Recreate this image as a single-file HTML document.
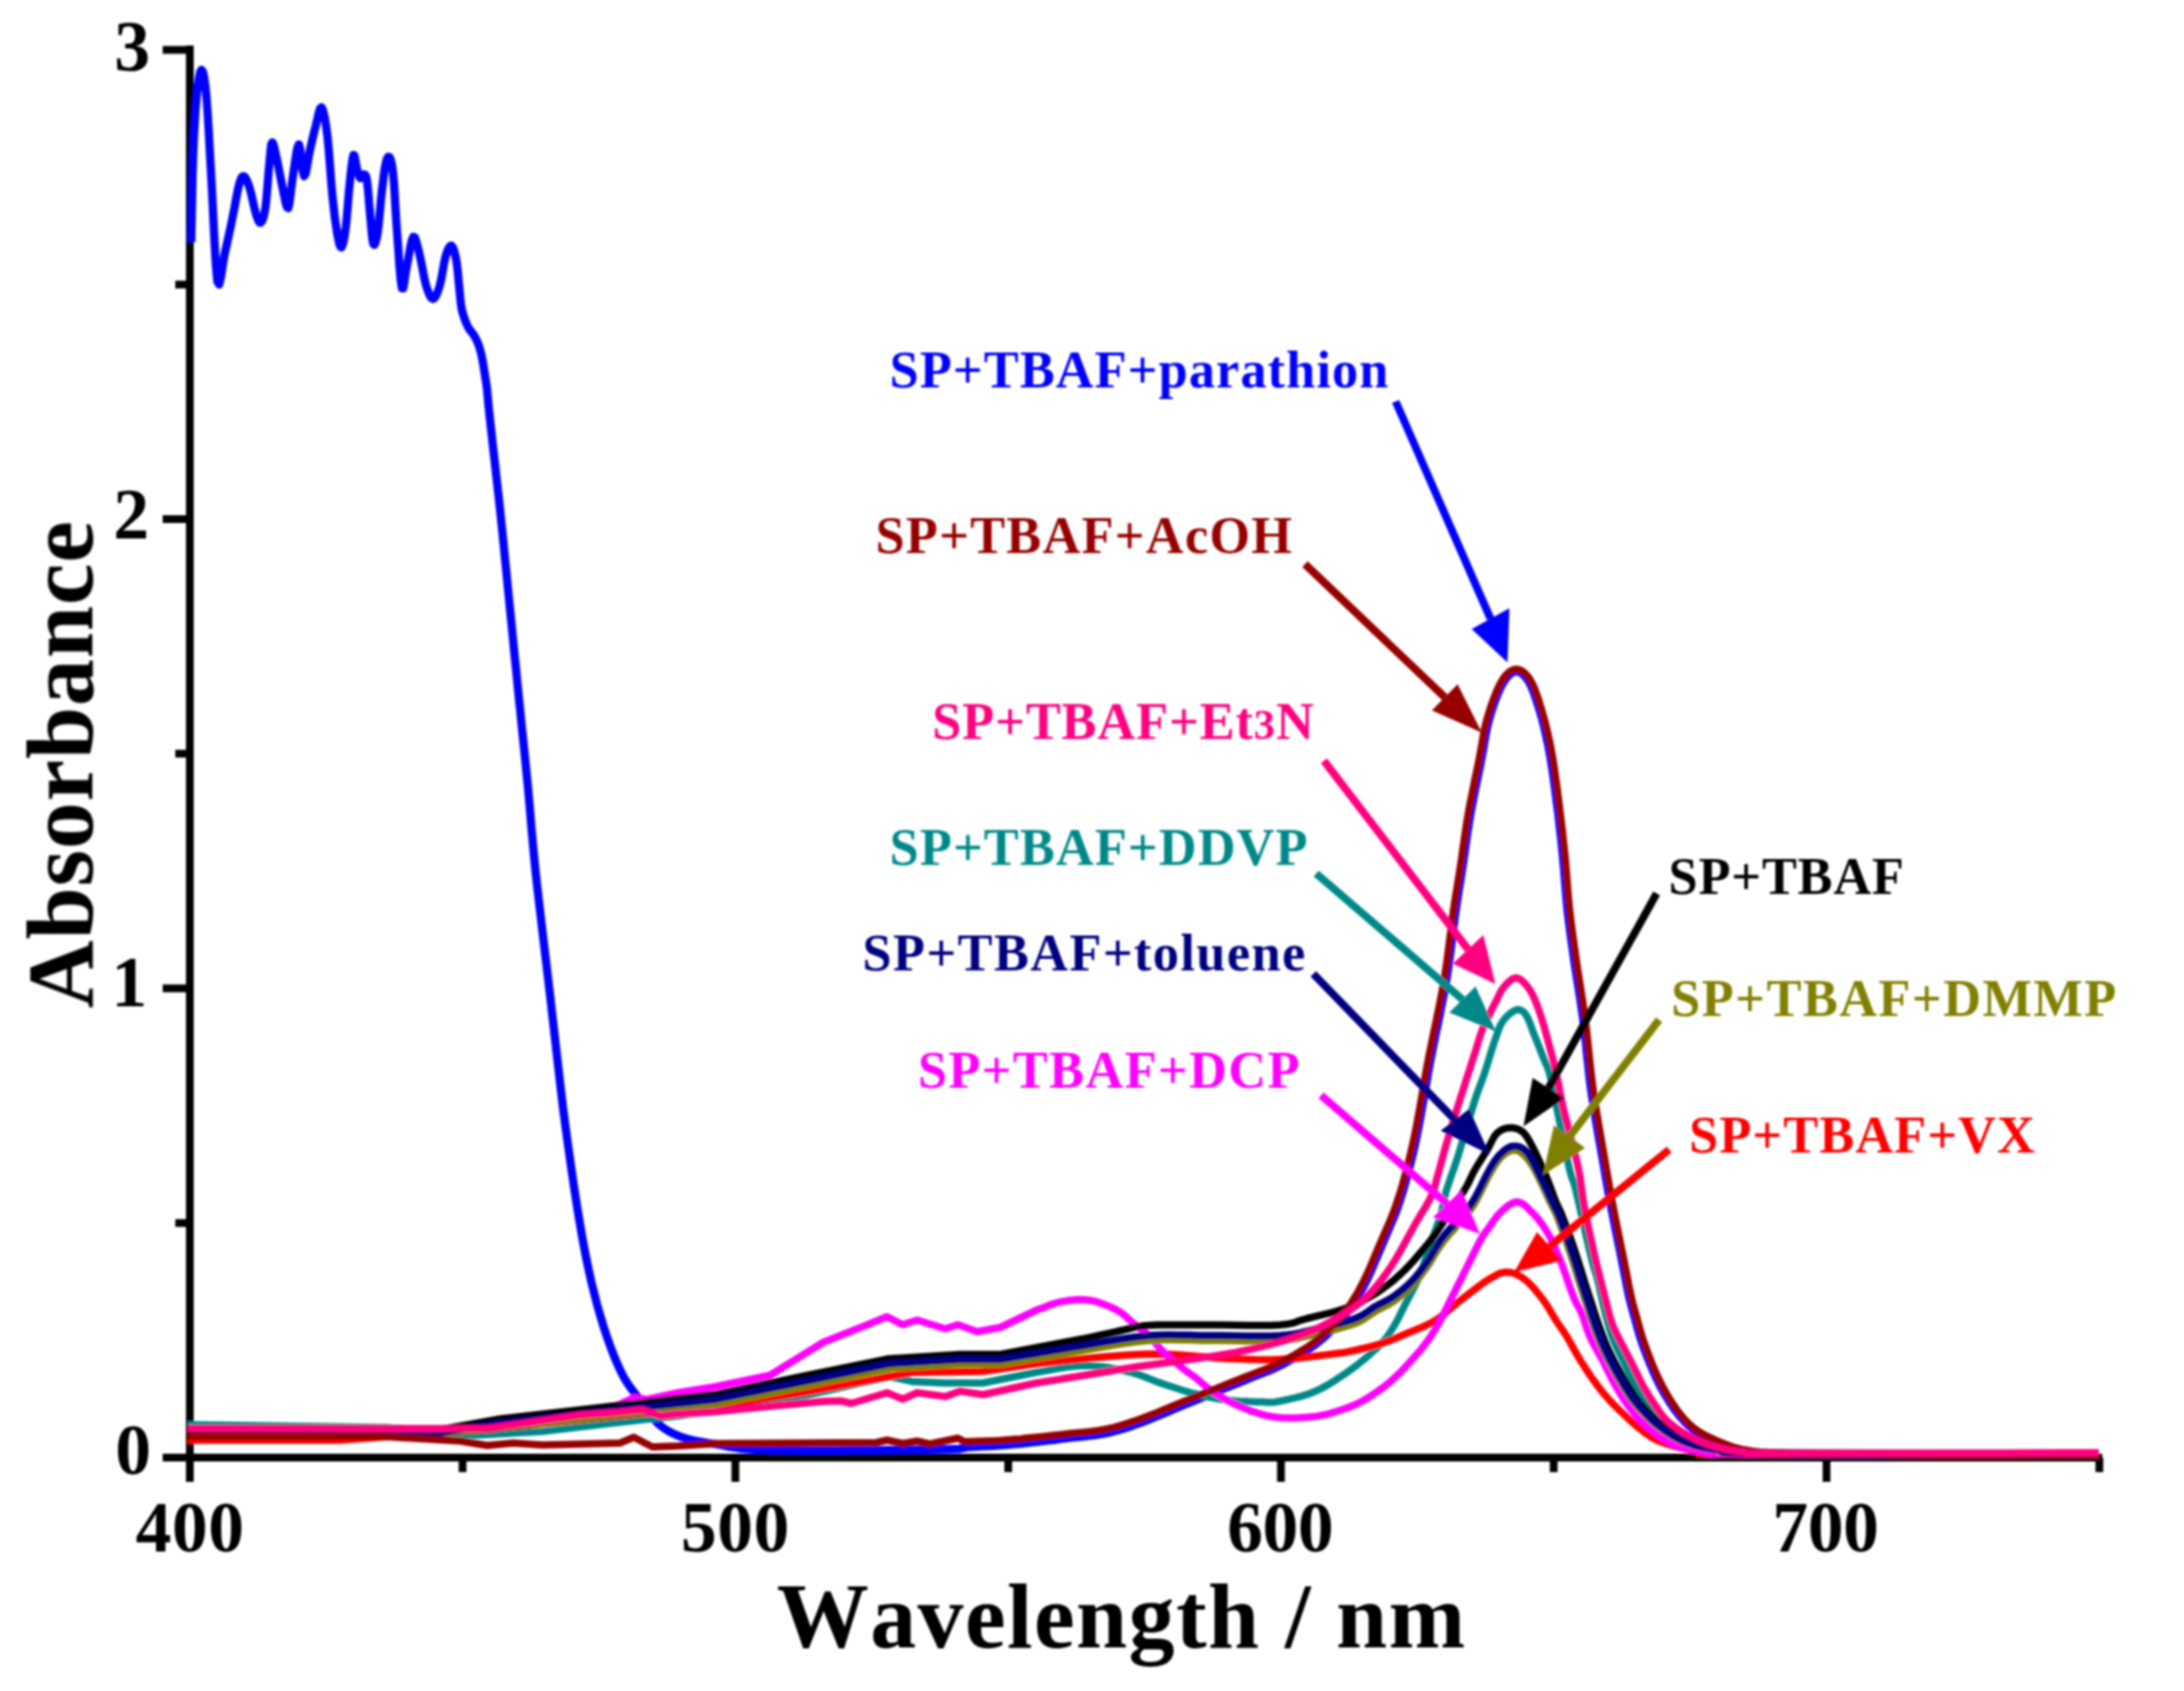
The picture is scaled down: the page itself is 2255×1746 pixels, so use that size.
<!DOCTYPE html>
<html lang="en"><head><meta charset="utf-8"><title>Absorbance spectra</title>
<style>
html,body{margin:0;padding:0;background:#fff;}
body{width:2255px;height:1746px;overflow:hidden;}
svg{display:block;}
</style></head><body>
<svg width="2255" height="1746" viewBox="0 0 2255 1746">
<rect width="2255" height="1746" fill="#fff"/>
<defs><filter id="soft" x="0" y="0" width="2255" height="1746" filterUnits="userSpaceOnUse"><feGaussianBlur stdDeviation="0.9"/></filter></defs>
<g filter="url(#soft)">
<g stroke="#000" stroke-width="8" stroke-linecap="butt" fill="none">
<line x1="196" y1="47" x2="196" y2="1530"/>
<line x1="168" y1="1505" x2="2170.5" y2="1505"/>
<line x1="168" y1="1020.5" x2="196" y2="1020.5"/>
<line x1="168" y1="536" x2="196" y2="536"/>
<line x1="168" y1="51.5" x2="196" y2="51.5"/>
<line x1="181" y1="1262.8" x2="196" y2="1262.8"/>
<line x1="181" y1="778.2" x2="196" y2="778.2"/>
<line x1="181" y1="293.8" x2="196" y2="293.8"/>
<line x1="759.3" y1="1505" x2="759.3" y2="1530"/>
<line x1="1322.6" y1="1505" x2="1322.6" y2="1530"/>
<line x1="1885.9" y1="1505" x2="1885.9" y2="1530"/>
<line x1="477.6" y1="1505" x2="477.6" y2="1520"/>
<line x1="1041" y1="1505" x2="1041" y2="1520"/>
<line x1="1604.2" y1="1505" x2="1604.2" y2="1520"/>
<line x1="2167.6" y1="1505" x2="2167.6" y2="1520"/>
</g>
<path d="M197.5 250L197.8 233.1L198.3 208.8L198.8 182.5L199.5 160L200.2 142.1L201.1 126.1L202 112L203 100L204.1 89.5L205.4 80.6L206.7 74.5L208 72L209.2 73.4L210.5 78.1L211.8 86.3L213 98L214.2 113.9L215.4 133.7L216.6 156.1L218 180L219.5 209L221.1 242.4L222.8 272.4L224.5 291L226.3 293.8L228.2 285.8L230.1 273.1L232 262L234 253.3L236 243.9L238.1 234.3L240 225L241.9 215.5L243.7 205.7L245.4 196.8L247 190L248.4 185.6L249.6 183L250.7 181.9L252 182L253.4 183.5L254.9 186.4L256.5 190.4L258 195L259.5 200.8L261.1 207.7L262.6 214.5L264 220L265.3 224.1L266.6 227.5L267.8 229.6L269 230L270.3 228.7L271.6 225.9L272.8 221.4L274 215L275.1 205.3L276.1 193L277.1 180.4L278 170L278.8 161.7L279.4 154.6L280.1 149.4L281 147L282.1 148.3L283.3 152.7L284.6 158.7L286 165L287.4 171.9L289 179.9L290.5 187.9L292 195L293.4 201.9L294.8 208.8L296.2 213.8L297.5 215L298.6 211.2L299.7 203.5L300.8 194.1L302 185L303.5 174.8L305.2 163.1L306.9 153.3L308.5 149L309.9 153.8L311.3 164.9L312.6 176.4L314 182L315.5 179.4L317 172.1L318.5 163L320 155L321.5 148.5L323 142L324.5 135.8L326 130L327.5 123.6L329 117L330.5 112L332 110.7L333.5 113.9L335.1 120.4L336.6 129.4L338 140L339.3 153.3L340.6 169.3L341.8 185.7L343 200L344.3 212L345.5 222.8L346.8 232.2L348 240L349.2 246.4L350.3 251.5L351.4 254.7L352.5 255.5L353.6 253.5L354.8 249L355.9 242.7L357 235L358 225.1L359 213.1L360 200.8L361 190L362 180.4L363 171.3L364 164.1L365 160L365.9 160.5L366.8 164.5L367.6 169.8L368.5 174L369.4 177.1L370.2 180.1L371.1 182.6L372 184L373 183.7L374 182.2L375.1 180.6L376 180L376.8 180.4L377.6 181.2L378.3 183.2L379 187L379.7 193.4L380.5 201.9L381.2 211.2L382 220L382.8 229.1L383.7 238.8L384.5 247.1L385.5 252L386.6 252.8L387.7 250.5L388.9 246L390 240L391 231.7L392 221.1L393 210L394 200L395 191.3L396 183L397 175.7L398 170L399 165.8L400 163L401 161.7L402 162L403 163.7L404 166.8L405 171.9L406 180L407 192.1L407.9 207.5L408.9 224.2L410 240L411.2 256.4L412.4 274L413.7 288.9L415 297.6L416.2 297.8L417.4 291.8L418.6 283.1L420 275L421.6 266.8L423.3 257.2L425 248.9L426.7 244.5L428.3 245.1L429.8 249.3L431.4 255.4L433 262L434.7 269.6L436.5 278.7L438.2 287.8L440 295L441.8 300.4L443.5 304.7L445.2 307.6L447 308.6L448.8 307.5L450.6 304.5L452.3 300.2L454 295L455.6 288.2L457.1 279.9L458.5 271.6L460 265L461.5 260.2L463.1 256.5L464.6 254.2L466 253.6L467.4 255.1L468.7 258.4L469.9 262.9L471 268L471.9 274L472.7 281L473.3 288.2L474 295L474.6 301.3L475.2 307.4L475.8 313.1L476.5 318L477.3 321.8L478.2 324.9L479.1 327.5L480 330L480.9 332.4L481.8 334.6L482.8 336.8L484 339L485.6 341.3L487.4 343.5L489.2 346L491 349L492.6 352.4L494.1 356L495.5 360.4L497 366L498.6 374.1L500.2 384.1L501.7 393.5L502.7 400L503 403L503.3 406.6L503.7 411.1L504.2 416.9L505 424.4L506 434L507.4 446.3L509 461L510.9 477.4L512.8 494.8L514.8 512.2L516.6 529L518.3 545.3L520 562L521.6 578.7L523.3 595.4L524.9 611.9L526.5 628L528.1 643.7L529.6 659.2L531.1 674.5L532.7 689.6L534.2 704.8L535.7 720L537.3 735.3L538.8 750.7L540.4 766L542 781.3L543.5 796.5L545 811.6L546.3 826.1L547.5 839.8L548.6 853.5L549.9 867.7L551.3 883L553 900L555.1 919L557.5 939.5L560 961.1L562.7 983.4L565.4 1005.9L568 1028L570.5 1050.2L573.1 1072.8L575.7 1095.6L578.3 1118.2L580.9 1140.5L583.7 1162L586.6 1183.2L589.6 1204.3L592.6 1225L595.7 1245L598.8 1263.7L601.8 1281L604.8 1296.6L607.7 1310.7L610.6 1323.7L613.6 1335.8L616.6 1347.3L619.8 1358.5L623.1 1369.4L626.5 1379.8L630 1389.7L633.5 1398.8L637 1407.3L640.5 1415L643.9 1421.7L647.3 1427.4L650.7 1432.4L654.1 1437L657.6 1441.4L661 1446L664.4 1450.8L667.8 1455.5L671.2 1460.1L674.6 1464.5L678.2 1468.5L682 1472L685.9 1475L690 1477.6L694.2 1479.8L698.5 1481.7L703 1483.4L707.6 1485L712.3 1486.4L717 1487.5L721.8 1488.4L726.9 1489.3L732.5 1490.1L738.6 1491L744.6 1492.1L750.4 1493.2L756.5 1494.3L763.9 1495.4L773.1 1496.3L785 1497L800.5 1497.4L819.2 1497.6L839.8 1497.7L861 1497.7L881.5 1497.6L900 1497.5L917.5 1497.3L935.2 1497.1L952.2 1496.8L967.6 1496.5L980.5 1496.2L990 1496L1000.7 1493.9L1007.1 1493.7L1014.6 1493.3L1022.6 1493L1030.4 1492.6L1037.3 1492.1L1043.3 1491.6L1048.9 1491.1L1054.3 1490.6L1059.6 1490L1064.9 1489.4L1070.5 1488.8L1076.4 1488.1L1082.4 1487.4L1088.5 1486.7L1094.6 1485.9L1100.6 1485.1L1106.5 1484.4L1112.2 1483.8L1117.8 1483.2L1123.5 1482.6L1129.2 1482L1134.9 1481.1L1140.8 1480L1146.4 1478.8L1151.8 1477.4L1157.3 1475.9L1163 1474.1L1169.2 1472.1L1176.3 1469.5L1184.3 1466.5L1193.2 1462.9L1202.6 1459L1212.2 1454.9L1221.9 1450.9L1231.2 1447.1L1240.6 1443.3L1250.2 1439.4L1259.8 1435.4L1269.2 1431.6L1278 1428L1286.1 1424.7L1293.2 1421.9L1299.6 1419.4L1305.5 1417.1L1311.2 1414.8L1316.9 1412.3L1322.8 1409.4L1329 1406.1L1335.3 1402.7L1341.7 1399L1347.9 1395.1L1353.9 1391.1L1359.5 1387L1364.8 1382.7L1369.8 1378.3L1374.6 1373.7L1379.2 1369L1383.5 1364.2L1387.7 1359.3L1391.5 1354.4L1395.1 1349.6L1398.4 1344.6L1401.7 1339.3L1404.9 1333.8L1408.1 1327.7L1411.5 1321L1414.8 1313.9L1418.1 1306.4L1421.3 1298.7L1424.5 1291L1427.7 1283.5L1430.8 1276.4L1433.8 1269.4L1436.8 1262.4L1439.8 1255.1L1442.8 1247.3L1445.7 1238.7L1448.6 1229.5L1451.4 1219.7L1454.2 1209.5L1456.9 1198.7L1459.6 1187.4L1462.2 1175.5L1464.8 1162.7L1467.3 1149.1L1469.8 1134.9L1472.3 1120.5L1474.7 1106.4L1477.2 1092.9L1479.8 1079.8L1482.5 1066.7L1485.2 1053.9L1487.7 1041.4L1490.1 1029.5L1492.2 1018.4L1493.9 1008L1495.4 998.1L1496.7 988.8L1497.8 980.2L1498.8 972.4L1499.7 965.3L1500.5 959.5L1501 954.9L1501.5 951.1L1501.9 947.5L1502.5 943.4L1503.2 938.3L1504.1 932.3L1505.1 925.8L1506.2 918.9L1507.4 911.6L1508.6 903.9L1509.9 895.8L1511.1 887.3L1512.4 878.3L1513.7 868.8L1515.1 859.3L1516.6 849.7L1518.2 840.4L1519.9 831.1L1521.7 821.6L1523.6 812.2L1525.6 802.9L1527.4 793.9L1529.1 785.4L1530.6 777.5L1531.9 770L1533.1 762.8L1534.4 755.9L1535.8 749.2L1537.5 742.6L1539.5 735.7L1541.8 728.7L1544.3 721.9L1546.8 715.5L1549.4 709.8L1551.9 705.1L1554.3 701.4L1556.6 698.4L1559 696.1L1561.2 694.5L1563.3 693.5L1565.3 693.1L1567.3 693.3L1569.3 694L1571.5 695.4L1573.8 697.4L1576 700L1578.2 703.1L1580.3 706.9L1582.3 711.5L1584.3 716.6L1586.2 722.2L1588.1 728.2L1590 734.3L1591.8 740.5L1593.5 747L1595.2 753.8L1596.8 761L1598.4 768.5L1599.9 776.4L1601.4 784.9L1602.8 793.9L1604.2 803.4L1605.5 813L1606.7 822.6L1607.9 831.9L1609.1 840.9L1610.1 849.8L1611.1 858.7L1612.1 867.5L1613 876.4L1613.9 885.2L1614.7 894L1615.4 902.9L1616.1 911.7L1616.8 920.5L1617.6 929.4L1618.4 938.2L1619.4 947L1620.5 955.6L1621.6 964.2L1622.8 973L1624.1 982L1625.4 991.3L1626.9 1001L1628.4 1010.8L1630 1020.9L1631.7 1031.3L1633.2 1042L1634.8 1053L1636.1 1064.5L1637.5 1076.6L1638.7 1089.1L1640.1 1101.6L1641.4 1114L1643 1125.9L1644.7 1137.5L1646.5 1149.2L1648.5 1160.6L1650.4 1171.7L1652.3 1182.2L1654 1192.1L1655.6 1201.4L1657.1 1210.1L1658.5 1218.3L1659.9 1226.1L1661.2 1233.4L1662.5 1240.4L1663.7 1246.8L1664.8 1252.5L1665.9 1257.8L1666.9 1263L1667.9 1268.1L1669 1273.4L1670.1 1278.9L1671.2 1284.4L1672.4 1289.9L1673.5 1295.4L1674.6 1300.9L1675.7 1306.4L1676.8 1312L1677.9 1317.7L1679 1323.4L1680.1 1329L1681.2 1334.4L1682.3 1339.5L1683.5 1344.2L1684.7 1348.8L1685.8 1353.1L1687 1357.2L1688.1 1361L1689.1 1364.5L1689.9 1367.6L1690.6 1370.3L1691.2 1372.6L1691.9 1375L1692.6 1377.6L1693.6 1380.6L1694.7 1384.1L1696 1387.8L1697.4 1391.7L1698.9 1395.8L1700.4 1399.8L1702 1403.7L1703.6 1407.6L1705.2 1411.5L1706.9 1415.5L1708.6 1419.4L1710.4 1423.2L1712.1 1426.8L1713.9 1430.3L1715.7 1433.7L1717.6 1437.1L1719.4 1440.3L1721.3 1443.4L1723.1 1446.3L1724.9 1449.2L1726.8 1451.9L1728.6 1454.6L1730.5 1457.1L1732.3 1459.5L1734.1 1461.8L1735.9 1464L1737.7 1466L1739.4 1467.9L1741.2 1469.7L1743 1471.5L1745 1473.2L1747 1474.8L1748.9 1476.3L1750.9 1477.8L1753.1 1479.2L1755.6 1480.7L1758.3 1482.2L1761.6 1483.9L1765.2 1485.6L1769.1 1487.4L1773.1 1489.1L1776.9 1490.7L1780.6 1492.1L1783.8 1493.3L1786.8 1494.4L1789.7 1495.4L1792.7 1496.2L1796 1497L1799.8 1497.8L1803.7 1498.5L1807.6 1499.1L1811.7 1499.7L1816.5 1500.2L1822.5 1500.6L1830 1501L1837 1501.3L1843 1501.5L1850.2 1501.6L1860.6 1501.7L1876.5 1501.8L1900 1501.9L1936.2 1501.9L1984.3 1501.8L2037.9 1501.8L2090.5 1501.7L2135.7 1501.6L2167 1501.5" fill="none" stroke="#0000ff" stroke-width="8.5" stroke-linejoin="round" stroke-linecap="butt"/>
<path d="M194 1471L400 1474L490 1482L560 1478L627 1470L700 1462L760 1452L831.6 1441L917.7 1421L941.5 1426.4L976 1428L1014.7 1428L1069.7 1417L1069.7 1417L1075.2 1416.1L1082.9 1414.7L1092 1413.1L1101.7 1411.6L1111.3 1410.5L1120 1410L1128 1410.2L1135.9 1410.9L1143.8 1412L1151.4 1413.4L1158.7 1414.9L1165.8 1416.5L1172.4 1418.3L1178.7 1420.4L1184.7 1422.7L1190.6 1425.1L1196.5 1427.4L1202.5 1429.5L1208.7 1431.5L1214.9 1433.5L1221.1 1435.5L1227.2 1437.3L1233.2 1439L1239 1440.5L1244.5 1441.8L1249.8 1442.9L1254.9 1443.8L1259.9 1444.7L1265 1445.4L1270 1446L1275.2 1446.5L1280.4 1446.9L1285.7 1447.1L1290.8 1447.3L1295.6 1447.4L1300 1447.5L1303.7 1447.6L1306.7 1447.8L1309.5 1448L1312.4 1448L1315.7 1447.7L1320 1447L1325.3 1446L1331.4 1444.7L1337.9 1443.2L1344.7 1441.3L1351.5 1439.2L1358 1436.6L1364.3 1433.6L1370.7 1430.1L1377 1426.2L1383.2 1422.2L1389.3 1418.1L1395 1414L1400.6 1409.9L1406 1405.6L1411.3 1401.2L1416.2 1396.8L1420.7 1392.7L1424.7 1388.8L1428 1385.3L1430.7 1382.2L1432.9 1379.3L1434.9 1376.3L1436.8 1373.3L1438.9 1369.9L1441 1366.3L1443.1 1362.5L1445.1 1358.6L1447 1354.6L1449.1 1350.5L1451.2 1346.2L1453.5 1341.8L1455.8 1337.4L1458.2 1332.9L1460.7 1328.1L1463.1 1323.1L1465.4 1317.8L1467.7 1311.9L1470 1305.5L1472.4 1298.8L1474.6 1292.1L1476.7 1285.8L1478.7 1280L1480.5 1274.8L1482.3 1270L1483.9 1265.5L1485.4 1261.2L1486.8 1257.1L1488 1253L1489 1249.3L1489.6 1246.1L1490.1 1243.1L1490.7 1239.9L1491.5 1236.2L1492.7 1231.6L1494.4 1226.2L1496.4 1220.3L1498.6 1213.8L1501 1206.9L1503.5 1199.5L1506 1191.8L1508.6 1183.2L1511.5 1173.7L1514.5 1163.7L1517.4 1153.8L1520.1 1144.8L1522.5 1137L1524.5 1130.9L1526.3 1126L1527.8 1121.8L1529.3 1118L1530.8 1113.8L1532.5 1109L1534.4 1103.2L1536.4 1096.8L1538.4 1090.2L1540.4 1083.7L1542.3 1077.7L1544 1072.6L1545.5 1068.4L1546.7 1064.8L1547.9 1061.7L1549 1059L1550.4 1056.5L1552 1054L1554 1051.5L1556.3 1049.1L1558.7 1046.9L1561.1 1045.1L1563.5 1043.6L1565.6 1042.8L1567.5 1042.5L1569.2 1042.7L1570.9 1043.4L1572.5 1044.4L1574 1045.9L1575.5 1047.8L1577 1050.2L1578.3 1053.1L1579.7 1056.5L1581 1060.1L1582.3 1063.8L1583.8 1067.6L1585.4 1071.6L1587.1 1075.8L1588.9 1080.3L1590.6 1084.6L1592.2 1088.8L1593.7 1092.5L1595 1095.5L1596 1098L1597 1100.2L1598 1102.6L1599 1105.4L1600 1109L1601.1 1113.2L1602.1 1117.7L1603.1 1122.6L1604.2 1128.2L1605.5 1134.6L1607 1142L1608.9 1151.3L1611.2 1162.4L1613.6 1174.4L1616 1186.2L1618.2 1196.8L1620 1205L1621.4 1210.6L1622.4 1214.2L1623.2 1216.6L1624 1218.4L1624.7 1220.3L1625.5 1223L1626.4 1226.3L1627.2 1229.5L1628 1232.8L1628.8 1236.5L1629.8 1240.5L1630.8 1245L1632 1250.4L1633.4 1256.5L1634.9 1263L1636.3 1269.6L1637.7 1275.8L1639 1281.4L1640.1 1286.3L1641.2 1290.8L1642.2 1294.9L1643.2 1298.8L1644.1 1302.5L1645 1306L1645.9 1309.1L1646.7 1311.7L1647.5 1314.1L1648.3 1316.6L1649.1 1319.4L1650 1322.8L1651 1326.9L1652 1331.6L1653.1 1336.5L1654.2 1341.7L1655.3 1346.8L1656.5 1351.7L1657.7 1356.5L1658.9 1361.2L1660.2 1366L1661.5 1370.7L1663 1375.4L1664.6 1380L1666.4 1384.6L1668.4 1389.2L1670.6 1393.8L1672.8 1398.3L1674.9 1402.7L1677 1407L1679 1411.1L1680.9 1415.1L1682.8 1419L1684.7 1422.8L1686.6 1426.4L1688.5 1430L1690.4 1433.5L1692.3 1436.8L1694.2 1440.1L1696.2 1443.2L1698.1 1446.2L1700 1449L1701.9 1451.7L1703.8 1454.2L1705.8 1456.6L1707.7 1458.9L1709.6 1461L1711.5 1463L1713.4 1464.8L1715.2 1466.4L1717.1 1467.9L1719 1469.3L1720.9 1470.8L1723 1472.3L1725.1 1473.9L1727.2 1475.6L1729.4 1477.3L1731.7 1479L1734.2 1480.7L1737 1482.3L1740 1483.9L1743.3 1485.5L1746.7 1487.2L1750.3 1488.7L1754.1 1490.2L1758 1491.5L1762.2 1492.7L1766.6 1493.9L1771.2 1494.9L1775.9 1495.9L1780.5 1496.7L1785 1497.5L1789.1 1498.1L1792.9 1498.6L1796.7 1499.1L1800.6 1499.4L1805 1499.7L1810 1500L1812.6 1500.3L1812 1500.5L1811.8 1500.7L1815.6 1500.8L1827.1 1500.9L1850 1501L1890.5 1501.1L1946.9 1501.1L2011 1501.1L2074.6 1501L2129.3 1501L2167 1501" fill="none" stroke="#008888" stroke-width="7.5" stroke-linejoin="round" stroke-linecap="butt"/>
<path d="M194 1487L352 1487L503 1476L627 1463L740 1452L831.6 1437.4L941.5 1417L1014.7 1416L1069.7 1408L1120 1402.7L1120 1402.7L1127.9 1402.1L1138.9 1401.1L1151.9 1400.1L1165.9 1399L1179.9 1398.3L1193 1398L1205.5 1398.3L1218.2 1399L1231 1400L1243.5 1401.1L1255.5 1402L1266.7 1402.7L1276.9 1403.1L1286.4 1403.5L1295.3 1403.8L1304 1403.9L1312.7 1403.9L1321.6 1403.6L1331.1 1403L1341.1 1402.2L1351.1 1401.1L1360.6 1400L1369.3 1398.9L1376.6 1398L1382.3 1397.3L1386.6 1396.7L1390 1396.1L1393.1 1395.5L1396.2 1394.8L1400 1394L1404.3 1393L1408.9 1392L1413.5 1390.8L1418.2 1389.6L1422.9 1388.3L1427.5 1386.8L1432.1 1385.2L1436.7 1383.5L1441.2 1381.7L1445.8 1379.7L1450.4 1377.8L1455 1375.8L1459.6 1373.9L1464.2 1372L1468.8 1370.1L1473.3 1368L1477.9 1365.7L1482.5 1363L1487.1 1359.8L1491.7 1356.3L1496.2 1352.5L1500.8 1348.5L1505.4 1344.7L1510 1341L1514.7 1337.4L1519.5 1333.7L1524.3 1330L1529 1326.5L1533.4 1323.4L1537.5 1320.8L1541.1 1318.7L1544.3 1316.9L1547.2 1315.4L1550 1314.4L1552.9 1313.7L1555.8 1313.5L1558.8 1313.7L1561.9 1314.4L1564.9 1315.4L1567.9 1316.9L1571 1318.7L1574 1320.8L1577.1 1323.4L1580.3 1326.5L1583.5 1329.9L1586.6 1333.6L1589.6 1337.3L1592.5 1341L1595.2 1344.8L1597.8 1348.7L1600.2 1352.8L1602.6 1356.7L1604.8 1360.5L1607 1364L1609 1367L1610.8 1369.6L1612.4 1372L1614.1 1374.4L1615.8 1377L1617.7 1380L1619.7 1383.4L1621.8 1387.1L1624 1391.1L1626.2 1395.1L1628.5 1399.1L1630.8 1403L1633.2 1406.9L1635.7 1410.8L1638.2 1414.7L1640.8 1418.6L1643.4 1422.4L1646 1426L1648.6 1429.5L1651.1 1432.9L1653.7 1436.2L1656.3 1439.4L1658.9 1442.4L1661.5 1445.4L1664.1 1448.2L1666.7 1450.9L1669.3 1453.4L1671.8 1455.9L1674.4 1458.4L1677 1460.8L1679.6 1463.2L1682.1 1465.6L1684.7 1468L1687.2 1470.3L1689.7 1472.5L1692.3 1474.6L1694.9 1476.6L1697.4 1478.6L1700 1480.5L1702.6 1482.3L1705.1 1483.9L1707.7 1485.4L1710.2 1486.7L1712.7 1487.8L1715.2 1488.8L1717.8 1489.8L1720.4 1490.6L1723 1491.5L1725.7 1492.4L1728.4 1493.2L1731.2 1493.9L1734 1494.6L1737 1495.3L1740 1496L1743 1496.7L1746.1 1497.3L1749.2 1497.9L1752.5 1498.5L1756.1 1499L1760 1499.5L1760.4 1499.9L1756.4 1500.3L1752.7 1500.7L1753.9 1501L1764.8 1501.3L1790 1501.5L1837.1 1501.7L1903.9 1501.8L1980.4 1501.9L2056.4 1501.9L2122 1502L2167 1502" fill="none" stroke="#ff0000" stroke-width="7.5" stroke-linejoin="round" stroke-linecap="butt"/>
<path d="M194 1477L462 1477L503 1474.5L560 1469L610 1460L640 1450L655 1443L668 1445L700 1438L740 1431.5L795 1420L850 1386L895.7 1367.8L915.8 1359.5L932 1367.8L947 1363L976 1372L989 1367.8L1009 1375L1033 1370.5L1069.7 1353L1069.7 1353L1072 1352.1L1075.1 1350.9L1078.9 1349.4L1082.8 1347.9L1086.6 1346.6L1090 1345.5L1092.9 1344.7L1095.7 1344.1L1098.4 1343.6L1101 1343.1L1103.5 1342.8L1106 1342.5L1108.4 1342.2L1110.8 1342L1113.1 1341.9L1115.3 1341.8L1117.6 1341.9L1120 1342L1122.4 1342.2L1124.7 1342.5L1127.1 1342.9L1129.6 1343.4L1132.2 1344.1L1135 1345L1138.1 1346.1L1141.6 1347.4L1145.2 1348.9L1148.8 1350.5L1152.2 1352.2L1155.4 1354L1158.2 1355.9L1160.8 1357.9L1163.3 1360.1L1165.7 1362.2L1168 1364.4L1170.5 1366.5L1173.1 1368.5L1175.7 1370.6L1178.4 1372.6L1180.9 1374.6L1183.4 1376.5L1185.6 1378.5L1187.6 1380.5L1189.3 1382.4L1191 1384.4L1192.5 1386.3L1194.1 1388.2L1195.7 1390L1197.3 1391.8L1198.9 1393.4L1200.4 1395.1L1202.1 1396.8L1203.8 1398.5L1205.8 1400.3L1208 1402.3L1210.5 1404.3L1213.1 1406.5L1215.8 1408.6L1218.4 1410.7L1221 1412.7L1223.6 1414.7L1226.2 1416.6L1228.8 1418.5L1231.4 1420.3L1233.8 1422.1L1236 1423.8L1237.9 1425.3L1239.5 1426.8L1241 1428.1L1242.5 1429.4L1244.1 1430.8L1246 1432.3L1248.2 1433.9L1250.4 1435.6L1252.9 1437.3L1255.4 1439.1L1258.2 1440.8L1261 1442.5L1264 1444.2L1267.3 1445.9L1270.7 1447.7L1274.1 1449.4L1277.6 1451L1281 1452.5L1284.4 1453.9L1287.9 1455.3L1291.3 1456.7L1294.8 1457.9L1298.2 1459L1301.5 1460L1304.7 1460.8L1307.8 1461.6L1310.8 1462.2L1313.8 1462.7L1316.9 1463.1L1320 1463.5L1323.2 1463.8L1326.4 1464L1329.7 1464.1L1333 1464.2L1336.4 1464.1L1340 1464L1343.8 1463.8L1347.9 1463.5L1352.1 1463.1L1356.3 1462.6L1360.3 1462.1L1364 1461.5L1367.4 1460.8L1370.6 1460.1L1373.6 1459.3L1376.5 1458.4L1379.4 1457.5L1382.4 1456.5L1385.5 1455.5L1388.5 1454.5L1391.6 1453.4L1394.6 1452.2L1397.7 1451L1400.7 1449.6L1403.7 1448.1L1406.8 1446.5L1409.8 1444.8L1412.8 1443L1415.9 1441L1419 1439L1422.1 1436.9L1425.3 1434.6L1428.5 1432.3L1431.7 1429.8L1434.9 1427.2L1438 1424.5L1441.1 1421.6L1444.3 1418.5L1447.4 1415.3L1450.5 1412.1L1453.5 1408.8L1456.5 1405.5L1459.4 1402.3L1462.3 1399L1465.1 1395.8L1467.8 1392.5L1470.5 1389.1L1473 1385.8L1475.4 1382.5L1477.6 1379.3L1479.7 1376L1481.8 1372.6L1484 1369L1486.2 1365.1L1488.5 1360.8L1490.9 1356.2L1493.2 1351.4L1495.6 1346.5L1498 1341.6L1500.4 1336.8L1502.8 1332.1L1505.1 1327.3L1507.5 1322.6L1509.9 1317.9L1512.2 1313.1L1514.6 1308.4L1517 1303.5L1519.6 1298.3L1522.1 1293.2L1524.5 1288.3L1526.8 1283.8L1528.8 1280L1530.5 1277.1L1531.8 1275L1533 1273.3L1534.1 1271.8L1535.4 1270.1L1537 1268L1538.8 1265.4L1540.8 1262.4L1543 1259.4L1545.2 1256.3L1547.6 1253.5L1550 1251L1552.6 1248.7L1555.3 1246.3L1558.2 1244.2L1561.1 1242.4L1564 1241.3L1566.8 1241L1569.5 1241.6L1572.3 1243.1L1575 1245.1L1577.7 1247.6L1580.4 1250.3L1583 1253L1585.6 1255.8L1588.2 1258.8L1590.7 1262L1593.2 1265.5L1595.6 1269.1L1598 1273L1600.2 1277L1602.4 1281.3L1604.5 1285.7L1606.5 1290.4L1608.6 1295.4L1610.8 1300.7L1613.1 1306.8L1615.6 1313.6L1618 1320.7L1620.4 1327.7L1622.7 1334L1624.7 1339.3L1626.4 1343.3L1627.9 1346.2L1629.2 1348.6L1630.4 1350.7L1631.7 1353L1633 1356L1634.4 1359.6L1635.7 1363.5L1637 1367.6L1638.4 1371.8L1639.9 1376L1641.5 1380L1643.3 1383.9L1645.3 1387.7L1647.5 1391.6L1649.6 1395.4L1651.7 1399.2L1653.8 1403L1655.8 1406.9L1657.7 1410.8L1659.6 1414.7L1661.6 1418.6L1663.5 1422.4L1665.4 1426L1667.3 1429.5L1669.3 1432.9L1671.2 1436.2L1673.1 1439.4L1675.1 1442.4L1677 1445.4L1678.9 1448.2L1680.8 1451L1682.8 1453.6L1684.7 1456.1L1686.6 1458.5L1688.5 1460.8L1690.4 1463L1692.3 1465L1694.2 1466.9L1696.2 1468.8L1698.1 1470.6L1700 1472.3L1701.9 1474L1703.7 1475.5L1705.5 1477L1707.4 1478.5L1709.4 1480L1711.5 1481.5L1713.9 1483.1L1716.4 1484.7L1719 1486.4L1721.7 1488L1724.4 1489.5L1727 1490.8L1729.4 1491.9L1731.7 1492.9L1734 1493.8L1736.4 1494.5L1739 1495.3L1742 1496L1745.2 1496.7L1748.6 1497.4L1752.2 1498L1756.1 1498.5L1760.4 1499.1L1765 1499.5L1766.3 1499.9L1763.5 1500.2L1761 1500.5L1763.3 1500.7L1774.8 1500.9L1800 1501L1846.2 1501.1L1911.3 1501.1L1985.7 1501.1L2059.6 1501.1L2123.2 1501L2167 1501" fill="none" stroke="#ff00ff" stroke-width="7.5" stroke-linejoin="round" stroke-linecap="butt"/>
<path d="M194 1479L450 1477L517 1465L627 1452.6L740 1439.7L831.6 1420.5L917.7 1403L991 1398.5L1033 1398.5L1120 1382L1120 1382L1124.1 1381.1L1129.8 1379.8L1136.5 1378.3L1143.7 1376.8L1150.6 1375.3L1156.7 1374L1161.6 1372.9L1165.7 1371.8L1169.6 1370.8L1173.9 1369.9L1179.2 1369.1L1186 1368.5L1194.6 1368.1L1204.5 1367.9L1215.4 1367.9L1226.8 1367.9L1238.5 1368L1250 1368L1262 1368L1274.9 1368.2L1288.1 1368.4L1300.7 1368.5L1312.1 1368.4L1321.6 1368L1328.6 1367.3L1333.7 1366.4L1337.5 1365.3L1340.8 1364.1L1344.4 1362.8L1349 1361.5L1354.7 1360.1L1360.8 1358.7L1367.2 1357.2L1373.6 1355.6L1379.9 1353.9L1385.8 1352L1391.3 1350L1396.7 1347.8L1401.9 1345.6L1407 1343.1L1412 1340.5L1417 1337.6L1422 1334.5L1426.9 1331.1L1431.8 1327.5L1436.6 1323.8L1441.3 1319.8L1446 1315.6L1450.7 1311.1L1455.5 1306.1L1460.2 1301L1464.7 1295.8L1469 1290.8L1473 1286L1476.5 1281.6L1479.5 1277.5L1482.3 1273.5L1485.1 1269.4L1487.9 1265.2L1491 1260.6L1494.5 1255.4L1498.3 1249.8L1502.2 1243.9L1506.1 1238.2L1509.5 1232.8L1512.5 1228L1514.8 1224L1516.6 1220.6L1518 1217.5L1519.3 1214.6L1520.8 1211.6L1522.5 1208.4L1524.6 1204.9L1526.8 1201.2L1529.2 1197.5L1531.5 1193.8L1533.7 1190.2L1535.8 1186.9L1537.6 1183.7L1539.2 1180.5L1540.8 1177.4L1542.3 1174.6L1543.9 1172.1L1545.7 1170L1547.7 1168.3L1549.9 1167L1552.2 1165.9L1554.5 1165.2L1556.8 1164.7L1559 1164.5L1561.2 1164.5L1563.5 1164.8L1565.7 1165.3L1567.9 1166.1L1570 1167.2L1572 1168.6L1573.8 1170.3L1575.5 1172.4L1577.1 1174.8L1578.7 1177.4L1580.3 1180.3L1582 1183.5L1583.9 1187.2L1586 1191.5L1588.1 1196.1L1590.2 1200.6L1592.1 1204.8L1593.7 1208.4L1594.9 1211.1L1595.9 1213.3L1596.6 1215.1L1597.3 1216.8L1598.1 1218.7L1599 1221L1600.1 1223.8L1601.2 1226.9L1602.4 1230.2L1603.6 1233.6L1604.8 1236.9L1606 1240L1607.2 1242.7L1608.3 1245L1609.4 1247.3L1610.6 1249.8L1611.9 1252.8L1613.5 1256.7L1615.3 1261.5L1617.4 1267L1619.6 1273L1621.9 1279.5L1624.2 1286.2L1626.5 1293L1628.8 1300.1L1631.2 1307.6L1633.6 1315.4L1636 1323.3L1638.5 1331.2L1641 1339L1643.6 1346.8L1646.1 1354.7L1648.8 1362.6L1651.4 1370.4L1654.2 1377.9L1657 1385L1659.9 1391.8L1663 1398.2L1666.1 1404.5L1669.3 1410.4L1672.4 1416.1L1675.5 1421.6L1678.5 1426.7L1681.3 1431.5L1684.2 1436.1L1687.1 1440.5L1690.2 1444.7L1693.5 1449L1697.1 1453.3L1700.9 1457.5L1704.9 1461.7L1709 1465.7L1713.2 1469.5L1717.5 1473L1721.9 1476.3L1726.4 1479.4L1731 1482.3L1735.7 1484.9L1740.5 1487.4L1745.5 1489.5L1750.5 1491.3L1755.6 1492.8L1760.9 1494.1L1766.3 1495.2L1772 1496.1L1778 1497L1780.9 1497.8L1780 1498.4L1779.3 1498.9L1783.1 1499.3L1795.2 1499.7L1820 1500L1864.2 1500.3L1925.9 1500.5L1996.1 1500.7L2065.7 1500.8L2125.7 1500.9L2167 1501" fill="none" stroke="#000000" stroke-width="7.5" stroke-linejoin="round" stroke-linecap="butt"/>
<path d="M194 1482.5L450 1481L517 1474L627 1462L740 1449.7L831.6 1431L917.7 1413L991 1408.5L1033 1408.5L1120 1394L1120 1394L1127.2 1392.8L1137.2 1391L1149 1389L1161.7 1387L1174.4 1385.2L1186 1384L1196.7 1383.4L1207.2 1383.3L1217.7 1383.4L1228.2 1383.6L1238.9 1383.9L1250 1384L1261.9 1384.1L1274.6 1384.2L1287.5 1384.4L1300.1 1384.5L1311.6 1384.4L1321.6 1384L1329.7 1383.3L1336.2 1382.5L1341.7 1381.4L1346.8 1380.2L1352.1 1378.9L1358 1377.5L1364.8 1375.9L1372.1 1374.2L1379.5 1372.4L1386.6 1370.4L1393.3 1368.5L1399 1366.5L1403.7 1364.5L1407.6 1362.4L1410.9 1360.2L1413.9 1358.1L1416.9 1356L1420 1354L1423.3 1352.2L1426.5 1350.6L1429.6 1349L1432.7 1347.4L1435.8 1345.6L1438.9 1343.6L1442.1 1341.3L1445.3 1338.8L1448.6 1336.1L1451.8 1333.4L1454.9 1330.5L1457.8 1327.6L1460.5 1324.7L1463.1 1321.7L1465.6 1318.6L1468.1 1315.4L1470.5 1312.1L1473 1308.6L1475.5 1304.9L1478 1300.9L1480.5 1296.7L1483 1292.6L1485.5 1288.7L1488 1285L1490.5 1281.7L1492.9 1278.7L1495.3 1275.9L1497.8 1273.1L1500.3 1270.2L1503 1267L1505.8 1263.7L1508.8 1260.3L1511.9 1256.8L1515 1253.2L1518.1 1249.3L1521 1245L1523.9 1240.1L1526.8 1234.7L1529.6 1228.9L1532.3 1223.3L1535 1218L1537.4 1213.4L1539.6 1209.5L1541.6 1206.2L1543.4 1203.1L1545.2 1200.5L1547 1198L1549 1195.8L1551.1 1193.7L1553.3 1191.9L1555.5 1190.2L1557.7 1188.9L1559.9 1188L1562 1187.5L1564 1187.4L1565.9 1187.8L1567.8 1188.5L1569.7 1189.5L1571.6 1190.9L1573.5 1192.5L1575.4 1194.3L1577.2 1196.4L1579 1198.8L1580.9 1201.5L1582.9 1204.7L1585 1208.4L1587.4 1212.9L1590 1218.3L1592.7 1224.2L1595.4 1230L1597.9 1235.4L1600 1240L1601.7 1243.4L1603 1245.9L1604.1 1248.1L1605.2 1250.2L1606.5 1253L1608 1256.7L1609.9 1261.5L1611.9 1267L1614.1 1273L1616.4 1279.5L1618.7 1286.2L1621 1293L1623.3 1300.1L1625.7 1307.6L1628.1 1315.4L1630.5 1323.3L1633 1331.2L1635.5 1339L1638.1 1346.8L1640.6 1354.7L1643.2 1362.6L1645.9 1370.4L1648.7 1377.9L1651.5 1385L1654.4 1391.8L1657.5 1398.2L1660.6 1404.5L1663.8 1410.4L1666.9 1416.1L1670 1421.6L1673 1426.7L1675.8 1431.5L1678.7 1436.1L1681.6 1440.5L1684.7 1444.7L1688 1449L1691.6 1453.3L1695.4 1457.5L1699.4 1461.7L1703.5 1465.7L1707.7 1469.5L1712 1473L1716.4 1476.3L1720.9 1479.4L1725.4 1482.3L1730.1 1484.9L1735 1487.4L1740 1489.5L1745.1 1491.3L1750.2 1492.8L1755.4 1494.1L1760.9 1495.1L1766.7 1496.1L1773 1497L1776.3 1497.8L1775.9 1498.6L1775.9 1499.2L1780.2 1499.7L1792.9 1500.1L1818 1500.5L1862.4 1500.8L1924.1 1500.9L1994.3 1501L2063.9 1501L2123.8 1501L2165 1501" fill="none" stroke="#808000" stroke-width="7.5" stroke-linejoin="round" stroke-linecap="butt"/>
<path d="M194 1481.5L450 1480L517 1469L627 1457L740 1444.7L831.6 1426L917.7 1408L991 1403.5L1033 1403.5L1120 1389L1120 1389L1127.2 1387.8L1137.2 1386L1149 1384L1161.7 1382L1174.4 1380.2L1186 1379L1196.7 1378.4L1207.2 1378.3L1217.7 1378.4L1228.2 1378.6L1238.9 1378.9L1250 1379L1261.9 1379.1L1274.6 1379.2L1287.5 1379.4L1300.1 1379.5L1311.6 1379.4L1321.6 1379L1329.7 1378.3L1336.2 1377.5L1341.7 1376.4L1346.8 1375.2L1352.1 1373.9L1358 1372.5L1364.8 1370.9L1372.1 1369.2L1379.5 1367.4L1386.6 1365.4L1393.3 1363.5L1399 1361.5L1403.7 1359.5L1407.6 1357.4L1410.9 1355.2L1413.9 1353.1L1416.9 1351L1420 1349L1423.3 1347.2L1426.5 1345.6L1429.6 1344L1432.7 1342.4L1435.8 1340.6L1438.9 1338.6L1442.1 1336.3L1445.3 1333.8L1448.6 1331.1L1451.8 1328.4L1454.9 1325.5L1457.8 1322.6L1460.5 1319.7L1463.1 1316.7L1465.6 1313.6L1468.1 1310.4L1470.5 1307.1L1473 1303.6L1475.5 1299.9L1478 1295.9L1480.5 1291.7L1483 1287.6L1485.5 1283.7L1488 1280L1490.5 1276.7L1492.9 1273.7L1495.3 1270.9L1497.8 1268.1L1500.3 1265.2L1503 1262L1505.8 1258.7L1508.8 1255.3L1511.9 1251.8L1515 1248.2L1518.1 1244.3L1521 1240L1523.9 1235.1L1526.8 1229.6L1529.6 1223.9L1532.3 1218.2L1535 1212.9L1537.4 1208.4L1539.6 1204.7L1541.6 1201.4L1543.4 1198.6L1545.2 1196.2L1547 1193.9L1549 1191.8L1551.1 1189.8L1553.2 1187.9L1555.4 1186.3L1557.6 1185L1559.8 1184L1562 1183.5L1564.2 1183.4L1566.5 1183.6L1568.8 1184.2L1571.1 1185.2L1573.4 1186.7L1575.5 1188.5L1577.5 1190.8L1579.4 1193.6L1581.2 1196.8L1583 1200.3L1584.9 1204.2L1587 1208.4L1589.4 1213.2L1592 1218.6L1594.7 1224.4L1597.4 1230.1L1599.9 1235.5L1602 1240L1603.7 1243.4L1605 1245.9L1606.1 1248.1L1607.2 1250.2L1608.5 1253L1610 1256.7L1611.9 1261.5L1613.9 1267L1616.1 1273L1618.4 1279.5L1620.7 1286.2L1623 1293L1625.3 1300.1L1627.7 1307.6L1630.1 1315.4L1632.5 1323.3L1635 1331.2L1637.5 1339L1640.1 1346.8L1642.6 1354.7L1645.2 1362.6L1647.9 1370.4L1650.7 1377.9L1653.5 1385L1656.4 1391.8L1659.5 1398.2L1662.6 1404.5L1665.8 1410.4L1668.9 1416.1L1672 1421.6L1675 1426.7L1677.8 1431.5L1680.7 1436.1L1683.6 1440.5L1686.7 1444.7L1690 1449L1693.6 1453.3L1697.4 1457.5L1701.4 1461.7L1705.5 1465.7L1709.7 1469.5L1714 1473L1718.4 1476.3L1722.9 1479.4L1727.4 1482.3L1732.1 1484.9L1737 1487.4L1742 1489.5L1747.1 1491.3L1752.2 1492.8L1757.4 1494.1L1762.9 1495.1L1768.7 1496.1L1775 1497L1778.3 1497.8L1777.9 1498.6L1777.9 1499.2L1782.2 1499.7L1794.9 1500.1L1820 1500.5L1864.4 1500.8L1926.1 1500.9L1996.3 1501L2065.9 1501L2125.8 1501L2167 1501" fill="none" stroke="#000080" stroke-width="7.5" stroke-linejoin="round" stroke-linecap="butt"/>
<path d="M194 1483L393 1483L476 1488L503 1492.5L530 1490L560 1492L600 1491L640 1490L654.5 1484L664 1489L673.7 1494L700 1493L740 1490.5L905 1489.5L916 1487L932 1490.5L947 1488L960 1491L989 1485L996 1488.6L996 1488.6L1000.6 1488.4L1006.9 1488.2L1014.4 1488L1022.4 1487.7L1030.2 1487.4L1037 1487L1042.9 1486.6L1048.5 1486.1L1053.8 1485.7L1059.1 1485.1L1064.4 1484.6L1070 1484L1075.8 1483.4L1081.9 1482.7L1087.9 1482.1L1094 1481.4L1100.1 1480.7L1106 1480L1111.8 1479.4L1117.4 1478.9L1123.1 1478.4L1128.7 1477.8L1134.3 1477L1140 1476L1145.5 1474.8L1150.9 1473.6L1156.2 1472.1L1161.8 1470.4L1168 1468.4L1175 1466L1183 1463L1191.9 1459.6L1201.2 1455.8L1210.9 1451.8L1220.6 1447.8L1230 1444L1239.4 1440.3L1249 1436.4L1258.7 1432.6L1268 1428.8L1276.9 1425.3L1285 1422L1292.2 1419.2L1298.6 1416.7L1304.5 1414.5L1310.1 1412.3L1315.7 1409.8L1321.6 1407L1327.8 1403.8L1334.1 1400.4L1340.3 1396.8L1346.5 1393L1352.4 1389L1358 1385L1363.2 1380.8L1368.2 1376.5L1372.9 1372L1377.4 1367.4L1381.7 1362.6L1385.8 1357.8L1389.6 1353L1393.1 1348.2L1396.4 1343.2L1399.6 1338.1L1402.8 1332.6L1406 1326.6L1409.3 1320L1412.6 1312.9L1415.9 1305.4L1419.1 1297.8L1422.3 1290.1L1425.5 1282.6L1428.6 1275.4L1431.7 1268.5L1434.7 1261.5L1437.7 1254.3L1440.6 1246.5L1443.5 1238L1446.4 1228.8L1449.2 1219.1L1451.9 1208.9L1454.7 1198.1L1457.4 1186.8L1460 1175L1462.6 1162.3L1465.1 1148.6L1467.6 1134.5L1470.1 1120.1L1472.5 1106L1475 1092.5L1477.6 1079.4L1480.3 1066.3L1483 1053.4L1485.6 1040.9L1487.9 1029.1L1490 1018L1491.7 1007.6L1493.2 997.8L1494.5 988.5L1495.6 979.9L1496.6 972.1L1497.5 965L1498.3 959.2L1498.8 954.6L1499.3 950.8L1499.7 947.2L1500.3 943.1L1501 938L1501.9 932L1502.9 925.5L1504.1 918.5L1505.2 911.2L1506.5 903.5L1507.7 895.5L1509 887L1510.2 877.9L1511.6 868.5L1513 858.9L1514.4 849.4L1516 840L1517.7 830.7L1519.6 821.2L1521.5 811.7L1523.4 802.4L1525.3 793.5L1527 785L1528.5 777.1L1529.8 769.6L1531 762.4L1532.2 755.5L1533.7 748.7L1535.4 742L1537.5 735.1L1539.8 728L1542.3 721.1L1544.9 714.6L1547.5 708.8L1550 704L1552.5 700.1L1555 696.9L1557.6 694.4L1560.1 692.6L1562.7 691.5L1565.2 691L1567.7 691.2L1570.3 692.1L1572.8 693.7L1575.3 695.9L1577.7 698.7L1580 702L1582.2 706L1584.3 710.6L1586.3 715.9L1588.3 721.6L1590.1 727.6L1592 733.7L1593.8 740L1595.6 746.5L1597.2 753.4L1598.9 760.5L1600.5 768.1L1602 776L1603.5 784.5L1604.9 793.6L1606.2 803.1L1607.6 812.7L1608.8 822.3L1610 831.6L1611.1 840.6L1612.2 849.6L1613.2 858.5L1614.2 867.3L1615.1 876.1L1616 885L1616.8 893.9L1617.5 902.7L1618.2 911.5L1618.9 920.3L1619.6 929.2L1620.5 938L1621.5 946.7L1622.6 955.3L1623.7 964L1624.9 972.7L1626.2 981.7L1627.5 991L1628.9 1000.7L1630.5 1010.5L1632.1 1020.6L1633.7 1031L1635.3 1041.7L1636.8 1052.7L1638.2 1064.3L1639.5 1076.4L1640.8 1088.9L1642.1 1101.4L1643.5 1113.7L1645 1125.6L1646.7 1137.2L1648.6 1148.8L1650.5 1160.2L1652.4 1171.3L1654.3 1181.9L1656 1191.8L1657.6 1201.1L1659.1 1209.8L1660.5 1218L1661.9 1225.7L1663.2 1233.1L1664.5 1240L1665.7 1246.4L1666.8 1252.1L1667.9 1257.5L1668.9 1262.6L1669.9 1267.7L1671 1273L1672.1 1278.5L1673.2 1284L1674.3 1289.5L1675.5 1295L1676.6 1300.5L1677.7 1306L1678.8 1311.6L1679.9 1317.3L1681 1323L1682.1 1328.6L1683.2 1334L1684.3 1339L1685.4 1343.7L1686.6 1348.3L1687.8 1352.6L1688.9 1356.6L1690 1360.4L1691 1364L1691.8 1367.1L1692.5 1369.7L1693.2 1372.1L1693.8 1374.5L1694.6 1377L1695.5 1380L1696.6 1383.4L1697.9 1387.1L1699.3 1391.1L1700.8 1395.1L1702.3 1399.1L1703.8 1403L1705.4 1406.9L1707 1410.8L1708.6 1414.7L1710.3 1418.6L1712.1 1422.4L1713.8 1426L1715.6 1429.5L1717.3 1432.9L1719.2 1436.2L1721 1439.4L1722.8 1442.4L1724.6 1445.4L1726.4 1448.2L1728.2 1451L1730 1453.6L1731.8 1456.1L1733.6 1458.5L1735.4 1460.8L1737.2 1462.9L1738.9 1464.9L1740.6 1466.8L1742.3 1468.6L1744.1 1470.3L1746 1472L1747.9 1473.6L1749.8 1475.1L1751.8 1476.6L1753.9 1478L1756.3 1479.5L1759 1481L1762.2 1482.7L1765.8 1484.4L1769.6 1486.2L1773.6 1487.9L1777.4 1489.6L1781 1491L1784.2 1492.2L1787.1 1493.3L1790 1494.3L1793 1495.2L1796.2 1496L1800 1496.8L1803.9 1497.5L1807.7 1498.1L1811.8 1498.7L1816.6 1499.2L1822.6 1499.6L1830 1500L1837.1 1500.3L1843.1 1500.5L1850.2 1500.7L1860.6 1500.8L1876.5 1500.9L1900 1501L1936.2 1501.1L1984.3 1501.1L2037.9 1501.1L2090.5 1501L2135.7 1501L2167 1501" fill="none" stroke="#960000" stroke-width="7.5" stroke-linejoin="round" stroke-linecap="butt"/>
<path d="M194 1475L503 1475L544.6 1469L599.5 1461L640 1458L662.7 1455.4L682 1462L700 1460L740 1457.5L795 1452L850 1447L868 1446.5L879 1449L916 1438L932 1444.7L947 1438L976 1442L991 1436.4L1015 1440L1070 1428L1070 1428L1075.4 1427.1L1082.8 1426L1091.6 1424.6L1101.1 1423L1110.8 1421.5L1120 1420L1128.9 1418.5L1138 1417L1147.2 1415.5L1156.5 1413.9L1165.8 1412.4L1175 1411L1184.2 1409.7L1193.3 1408.5L1202.5 1407.3L1211.7 1406.1L1220.8 1404.9L1230 1403.6L1239.2 1402.2L1248.3 1400.9L1257.5 1399.5L1266.7 1398L1275.8 1396.4L1285 1394.5L1294.4 1392.4L1304 1390.1L1313.7 1387.6L1323 1385.1L1331.9 1382.4L1340 1379.8L1347.2 1377.2L1353.7 1374.5L1359.7 1371.9L1365.4 1369.1L1371 1366.1L1376.6 1363L1382.3 1359.8L1387.9 1356.5L1393.4 1353L1398.8 1349.3L1404 1345.4L1409 1341L1413.8 1336.3L1418.4 1331.3L1422.9 1326L1427.3 1320.3L1431.6 1314.4L1436 1308L1440.5 1300.9L1445.1 1293.1L1449.7 1284.9L1454.1 1276.8L1458.3 1269.2L1462 1262.5L1465.3 1256.8L1468.3 1251.9L1471.1 1247.4L1473.5 1243.2L1475.8 1239.1L1477.8 1235L1479.5 1230.9L1480.8 1227.1L1481.9 1223.4L1482.8 1219.6L1483.8 1215.7L1485 1211.5L1486.3 1207L1487.5 1202.4L1488.8 1197.7L1490.2 1192.7L1491.6 1187.4L1493.2 1181.9L1495 1175.8L1497 1169.1L1499.1 1162.2L1501.2 1155.3L1503.2 1148.8L1505 1142.9L1506.6 1137.9L1508 1133.4L1509.3 1129.3L1510.6 1125.4L1511.9 1121.3L1513.3 1116.9L1514.8 1112.1L1516.5 1107L1518.1 1101.9L1519.8 1096.8L1521.3 1091.9L1522.8 1087.3L1524.1 1083L1525.4 1079L1526.5 1075.1L1527.7 1071.4L1528.8 1067.9L1530 1064.5L1531.2 1061.3L1532.5 1058.4L1533.8 1055.7L1535 1053L1536.3 1050.5L1537.5 1048L1538.6 1045.6L1539.7 1043.4L1540.8 1041.3L1541.9 1039.2L1543 1037.1L1544.2 1034.8L1545.4 1032.3L1546.7 1029.7L1548 1026.9L1549.3 1024.3L1550.8 1021.8L1552.5 1019.5L1554.4 1017.3L1556.5 1015L1558.7 1012.9L1561 1011.2L1563.4 1010L1565.6 1009.7L1567.8 1010.2L1570.1 1011.5L1572.4 1013.4L1574.6 1015.7L1576.8 1018.3L1578.8 1021L1580.7 1023.9L1582.4 1027.1L1584 1030.5L1585.6 1034.3L1587.2 1038.4L1588.8 1042.8L1590.5 1047.7L1592.2 1053L1593.9 1058.7L1595.5 1064.5L1597.1 1070.3L1598.7 1076L1600.2 1081.5L1601.6 1087L1603.1 1092.5L1604.4 1098L1605.7 1103.5L1607 1109L1608.2 1114.5L1609.3 1120L1610.3 1125.5L1611.3 1131L1612.4 1136.5L1613.6 1142L1614.9 1147.5L1616.3 1153L1617.7 1158.5L1619.2 1164L1620.6 1169.5L1622 1175L1623.4 1180.5L1624.8 1186L1626.2 1191.6L1627.6 1197.1L1628.9 1202.6L1630 1208L1631 1213.4L1631.8 1218.7L1632.5 1224L1633.2 1229.3L1633.9 1234.6L1634.8 1240L1635.8 1245.4L1636.8 1250.9L1637.9 1256.4L1639 1262L1640.1 1267.5L1641.3 1273L1642.5 1278.5L1643.7 1284L1644.9 1289.5L1646.1 1295L1647.4 1300.5L1648.7 1306L1650.1 1311.6L1651.5 1317.3L1652.9 1323L1654.3 1328.6L1655.7 1334L1657 1339L1658.2 1343.7L1659.3 1348.3L1660.4 1352.6L1661.4 1356.6L1662.5 1360.4L1663.6 1364L1664.6 1367.1L1665.6 1369.6L1666.6 1371.9L1667.7 1374.2L1668.9 1376.8L1670.5 1380L1672.5 1383.9L1674.8 1388.3L1677.3 1393.1L1679.8 1397.9L1682.3 1402.6L1684.6 1407L1686.7 1411.1L1688.6 1415.1L1690.5 1419L1692.3 1422.8L1694.1 1426.4L1696 1430L1697.9 1433.4L1699.9 1436.8L1701.9 1440L1703.8 1443.1L1705.8 1446.1L1707.7 1449L1709.6 1451.9L1711.5 1454.7L1713.3 1457.4L1715.2 1459.9L1717.1 1462.4L1719 1464.6L1721 1466.6L1723 1468.5L1725 1470.2L1727 1471.7L1728.9 1473.2L1730.8 1474.6L1732.5 1475.9L1734.1 1477L1735.7 1478L1737.3 1478.9L1739 1479.9L1741 1481L1743.2 1482.2L1745.5 1483.5L1747.9 1484.7L1750.5 1486L1753.2 1487.3L1756 1488.5L1759 1489.7L1762.1 1490.8L1765.4 1492L1768.9 1493.1L1772.4 1494.1L1776 1495L1779.6 1495.8L1783.1 1496.6L1786.8 1497.3L1790.7 1497.9L1795 1498.5L1800 1499L1802.4 1499.4L1801.5 1499.8L1801.1 1500L1804.8 1500.2L1816.5 1500.4L1840 1500.5L1881.7 1500.5L1939.9 1500.5L2006 1500.3L2071.6 1500.2L2128.1 1500.1L2167 1500" fill="none" stroke="#ff0080" stroke-width="7.5" stroke-linejoin="round" stroke-linecap="butt"/>
<line x1="1441" y1="414.5" x2="1539" y2="638.8" stroke="#0000ff" stroke-width="8" stroke-linecap="butt"/><polygon points="1556.5,684 1558.5,628 1519.5,649.5" fill="#0000ff"/>
<line x1="1347.4" y1="582.5" x2="1491.8" y2="720" stroke="#960000" stroke-width="8" stroke-linecap="butt"/><polygon points="1530,756.5 1505,706.5 1478.5,733.5" fill="#960000"/>
<line x1="1367" y1="785.5" x2="1515.8" y2="980.2" stroke="#ff0080" stroke-width="8" stroke-linecap="butt"/><polygon points="1544,1016 1531.5,965.5 1500,995" fill="#ff0080"/>
<line x1="1359" y1="902" x2="1510" y2="1032" stroke="#008888" stroke-width="8" stroke-linecap="butt"/><polygon points="1544.5,1065 1523.5,1018.5 1496.5,1045.5" fill="#008888"/>
<line x1="1356" y1="1005.5" x2="1502.2" y2="1156.2" stroke="#000080" stroke-width="8" stroke-linecap="butt"/><polygon points="1538,1192 1517,1145 1487.5,1167.5" fill="#000080"/>
<line x1="1364" y1="1131" x2="1494.2" y2="1243" stroke="#ff00ff" stroke-width="8" stroke-linecap="butt"/><polygon points="1528,1274 1509,1229 1479.5,1257" fill="#ff00ff"/>
<line x1="1710.5" y1="922.5" x2="1598.8" y2="1123.5" stroke="#000000" stroke-width="8" stroke-linecap="butt"/><polygon points="1573,1163 1582.5,1113 1615,1134" fill="#000000"/>
<line x1="1713" y1="1053" x2="1620.5" y2="1173.6" stroke="#808000" stroke-width="8" stroke-linecap="butt"/><polygon points="1593,1213.5 1604.5,1162 1636.6,1185.2" fill="#808000"/>
<line x1="1723.5" y1="1187" x2="1600" y2="1286.8" stroke="#ff0000" stroke-width="8" stroke-linecap="butt"/><polygon points="1563.2,1313.8 1587,1272 1613,1301.5" fill="#ff0000"/>
<g font-family="'Liberation Serif', 'Times New Roman', serif" font-weight="bold" style="font-kerning:none">
<text x="918.5" y="400" font-size="54" fill="#0000ff" textLength="515" lengthAdjust="spacing">SP+TBAF+parathion</text>
<text x="904" y="571" font-size="54" fill="#960000" textLength="430" lengthAdjust="spacing">SP+TBAF+AcOH</text>
<text x="962.5" y="763" font-size="54" fill="#ff0080" textLength="394" lengthAdjust="spacing">SP+TBAF+Et<tspan font-size="44">3</tspan>N</text>
<text x="918.5" y="892.5" font-size="54" fill="#008888" textLength="431.5" lengthAdjust="spacing">SP+TBAF+DDVP</text>
<text x="890.6" y="1002.4" font-size="54" fill="#000080" textLength="457" lengthAdjust="spacing">SP+TBAF+toluene</text>
<text x="947.7" y="1123.2" font-size="54" fill="#ff00ff" textLength="394" lengthAdjust="spacing">SP+TBAF+DCP</text>
<text x="1722.8" y="922.6" font-size="54" fill="#000" textLength="243" lengthAdjust="spacing">SP+TBAF</text>
<text x="1725.5" y="1049.3" font-size="54" fill="#808000" textLength="459.4" lengthAdjust="spacing">SP+TBAF+DMMP</text>
<text x="1744" y="1190" font-size="54" fill="#ff0000" textLength="357" lengthAdjust="spacing">SP+TBAF+VX</text>
<text x="802" y="1700.5" font-size="95" fill="#000" textLength="711" lengthAdjust="spacing">Wavelength / nm</text>
<text x="95.3" y="1041" font-size="97" fill="#000" textLength="503" lengthAdjust="spacing" transform="rotate(-90 95.3 1041)">Absorbance</text>
<text x="196" y="1602" font-size="74" fill="#000" textLength="112" lengthAdjust="spacing" text-anchor="middle">400</text>
<text x="759" y="1602" font-size="74" fill="#000" textLength="112" lengthAdjust="spacing" text-anchor="middle">500</text>
<text x="1322" y="1602" font-size="74" fill="#000" textLength="110" lengthAdjust="spacing" text-anchor="middle">600</text>
<text x="1885" y="1602" font-size="74" fill="#000" textLength="110" lengthAdjust="spacing" text-anchor="middle">700</text>
<text x="156" y="1522" font-size="74" fill="#000" text-anchor="end">0</text>
<text x="152" y="1039" font-size="74" fill="#000" text-anchor="end">1</text>
<text x="154" y="556" font-size="74" fill="#000" text-anchor="end">2</text>
<text x="155" y="72.5" font-size="74" fill="#000" text-anchor="end">3</text>
</g>
</g>
</svg>
</body></html>
